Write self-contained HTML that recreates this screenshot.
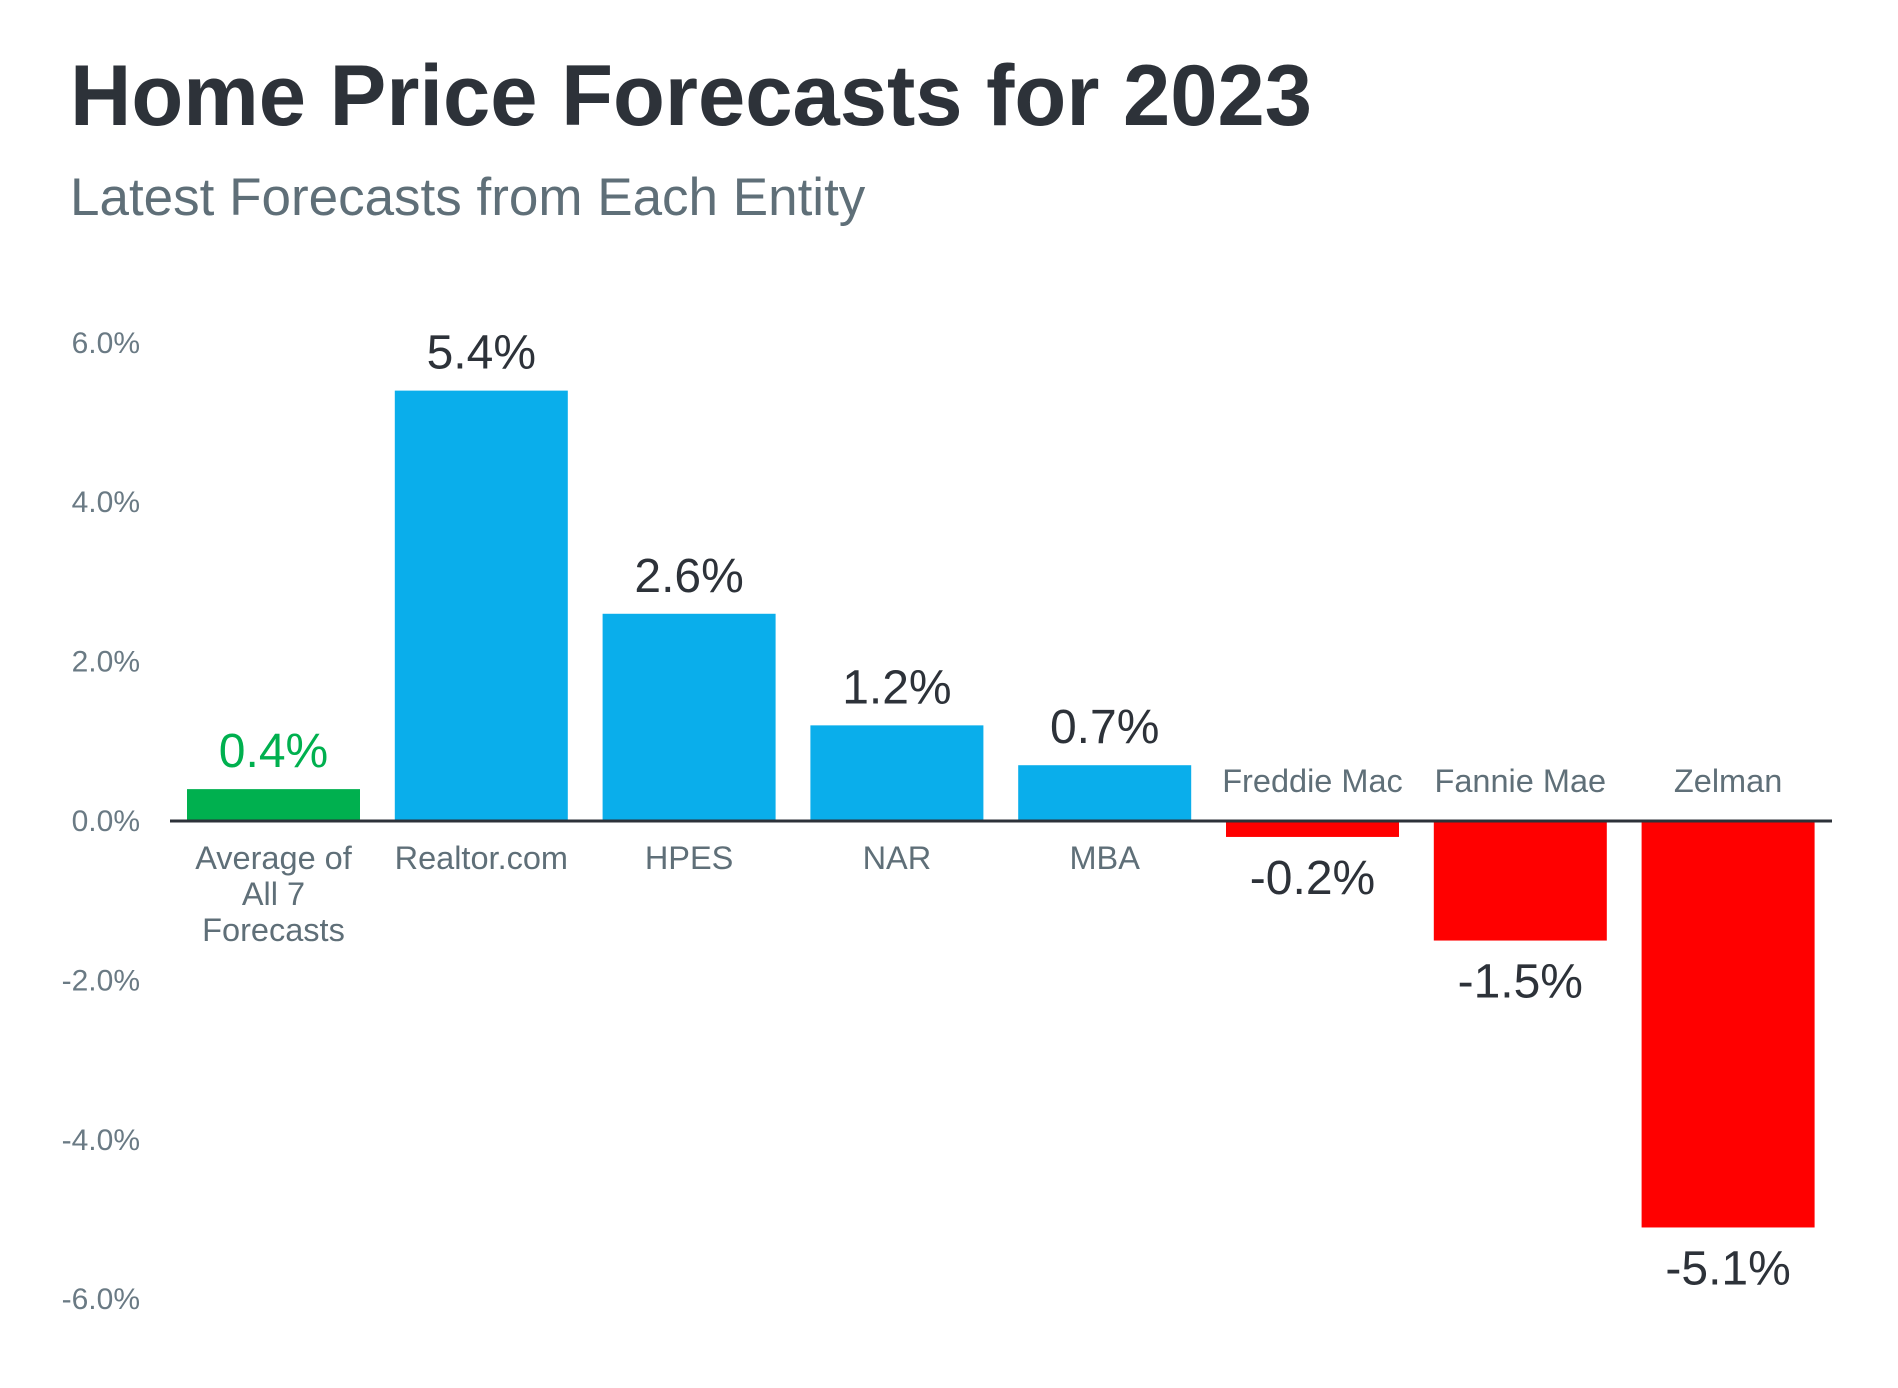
<!DOCTYPE html>
<html><head><meta charset="utf-8"><style>
html,body{margin:0;padding:0;background:#fff;}
svg{display:block;font-family:"Liberation Sans",Arial,sans-serif;}
</style></head><body>
<svg id="chart" width="1898" height="1388" viewBox="0 0 1898 1388" xmlns="http://www.w3.org/2000/svg">
<text x="70" y="125" font-size="86" font-weight="bold" fill="#2d3239" textLength="1242" lengthAdjust="spacingAndGlyphs">Home Price Forecasts for 2023</text>
<text x="70" y="215" font-size="53" fill="#5f6f78">Latest Forecasts from Each Entity</text>
<g id="grid"></g><g id="bars"></g><g id="labels"></g>
</svg>
<script>
const categories = ["Average of|All 7|Forecasts","Realtor.com","HPES","NAR","MBA","Freddie Mac","Fannie Mae","Zelman"];
const values = [0.4,5.4,2.6,1.2,0.7,-0.2,-1.5,-5.1];
const valueLabels = ["0.4%","5.4%","2.6%","1.2%","0.7%","-0.2%","-1.5%","-5.1%"];
const ticks = [6,4,2,0,-2,-4,-6];
const tickLabels = ["6.0%","4.0%","2.0%","0.0%","-2.0%","-4.0%","-6.0%"];
const NS="http://www.w3.org/2000/svg";
const zeroY=821, pxPerUnit=79.7;
function y(v){return zeroY - v*pxPerUnit;}
function xc(i){return 273.5 + i*207.8;}
const barW=173;
function mk(tag,attrs,parent){const e=document.createElementNS(NS,tag);for(const k in attrs)e.setAttribute(k,attrs[k]);document.getElementById(parent).appendChild(e);return e;}
ticks.forEach((t,i)=>{
  const tx=mk('text',{x:140,y:y(t)+10,'font-size':30,fill:'#6a7a84','text-anchor':'end'},'grid');
  tx.textContent=tickLabels[i];
  
  
});
values.forEach((v,i)=>{
  const color = i===0 ? '#00b04f' : (v>=0 ? '#0aaeeb' : '#ff0000');
  const r=mk('rect',{x:xc(i)-barW/2,y:Math.min(y(v),zeroY),width:barW,height:Math.abs(y(v)-zeroY),fill:color},'bars');
  
  
  const vl=mk('text',{x:xc(i),y: v>=0 ? y(v)-22 : y(v)+57,'font-size':48,fill: i===0?'#00b04f':'#2d3239','text-anchor':'middle'},'labels');
  vl.textContent=valueLabels[i];
  
  
  const lines=categories[i].split('|');
  lines.forEach((ln,j)=>{
    const cl=mk('text',{x:xc(i),y: v>=0 ? zeroY+48+j*36 : zeroY-29,'font-size':32.5,fill:'#5f6f78','text-anchor':'middle'},'labels');
    cl.textContent=ln;
    
    
  });
});
const ax=mk('line',{x1:170,x2:1832,y1:zeroY,y2:zeroY,stroke:'#2d3239','stroke-width':3},'labels');


</script>
</body></html>
